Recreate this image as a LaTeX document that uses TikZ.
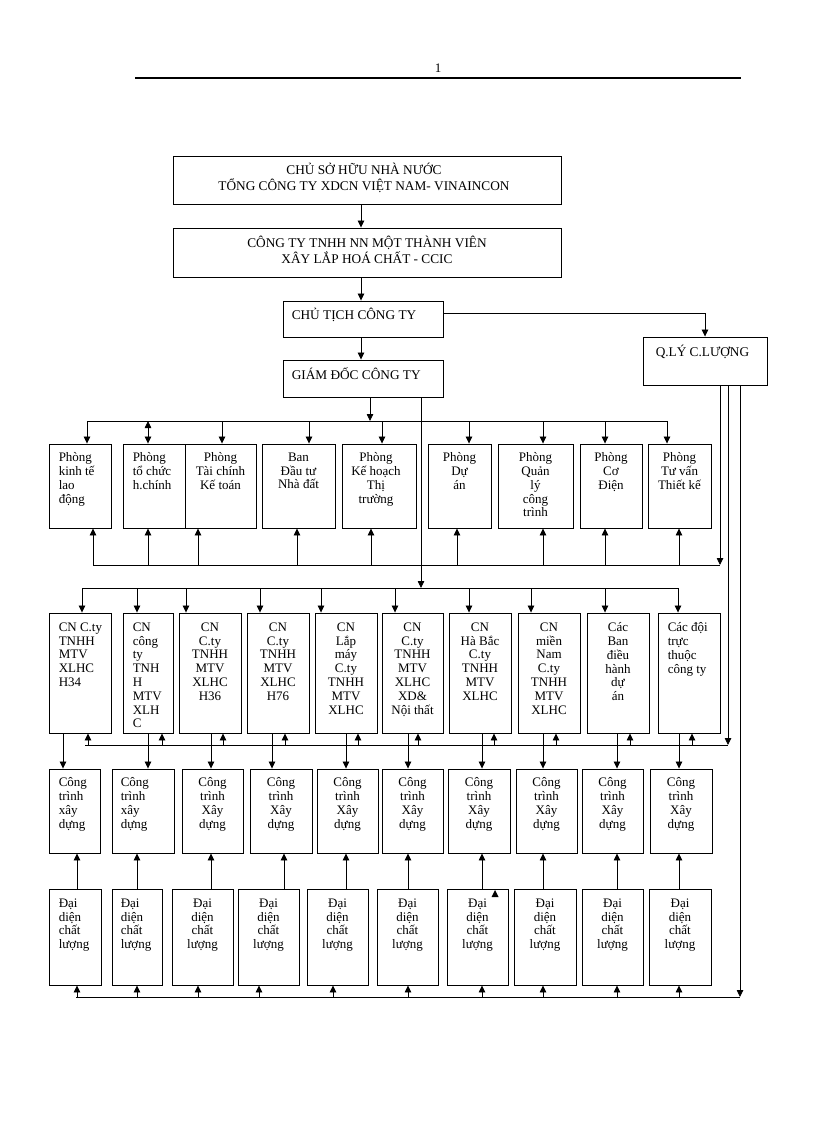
\documentclass[tikz,border=0pt]{standalone}
\usepackage{fontspec}
\setmainfont{Liberation Serif}
\usetikzlibrary{positioning,arrows.meta}

\tikzset{
  bx/.style={draw, rectangle, line width=0.9pt, inner sep=0pt},
  tx/.style={inner sep=0pt, align=center, font=\fontsize{13}{13.8}\selectfont},
  tl/.style={inner sep=0pt, align=left, font=\fontsize{13}{13.8}\selectfont},
  tcap/.style={inner sep=0pt, font=\fontsize{13.3}{16}\selectfont},
  ln/.style={line width=0.8pt},
  arr/.style={line width=0.8pt, -{Triangle[length=7pt,width=6.5pt]}},
  darr/.style={line width=0.8pt, {Triangle[length=7pt,width=6.5pt]}-{Triangle[length=7pt,width=6.5pt]}},
}

\begin{document}
\begin{tikzpicture}[x=1pt,y=-1pt]
\useasboundingbox[fill=white] (0,0) rectangle (816,1123);

% page head
\node[tx] (pagenum) at (438,68) {1};
\coordinate (hl) at (135,78);
\coordinate (hr) at (741,78);
\draw[line width=2.2pt] (hl) -- (hr);

% top of the company
\node[bx, minimum width=388pt, minimum height=48pt] (sohuu) at (367,180) {};
\node[tcap, align=center, below=7pt of sohuu.north, xshift=-3pt] (tsohuu) {CHỦ SỞ HỮU NHÀ NƯỚC\\TỔNG CÔNG TY XDCN VIỆT NAM- VINAINCON};
\node[bx, minimum width=388pt, minimum height=49pt] (ccic) at (367,252.5) {};
\node[tcap, align=center, below=8pt of ccic.north] (tccic) {CÔNG TY TNHH NN MỘT THÀNH VIÊN\\XÂY LẮP HOÁ CHẤT - CCIC};
\node[bx, minimum width=160pt, minimum height=36pt] (chutich) at (363,319) {};
\node[tcap, align=left, below right=7pt and 9pt of chutich.north west] (tchutich) {CHỦ TỊCH CÔNG TY};
\node[bx, minimum width=160pt, minimum height=37pt] (giamdoc) at (363,378.5) {};
\node[tcap, align=left, below right=8pt and 9pt of giamdoc.north west] (tgiamdoc) {GIÁM ĐỐC CÔNG TY};
\node[bx, minimum width=124pt, minimum height=48pt] (qlcl) at (705,361) {};
\node[tcap, align=left, below right=8pt and 13pt of qlcl.north west] (tqlcl) {Q.LÝ C.LƯỢNG};

\draw[arr] ([xshift=-6pt]sohuu.south) -- ([xshift=-6pt]ccic.north);
\draw[arr] ([xshift=-6pt]ccic.south) -- ([xshift=-2pt]chutich.north);
\draw[arr] ([xshift=-2pt]chutich.south) -- ([xshift=-2pt]giamdoc.north);
\draw[arr] ([yshift=6pt]chutich.east) -| (qlcl.north);

% phong ban
\node[bx, minimum width=62pt, minimum height=84pt] (pkt) at (80,486) {};
\node[tl, below right=9pt and 10pt of pkt.north west] (tpkt) {Phòng\\kinh tế\\lao\\động};
\node[bx, minimum width=62pt, minimum height=84pt] (ptc) at (154,486) {};
\node[tl, below right=9pt and 10pt of ptc.north west] (tptc) {Phòng\\tổ chức\\h.chính};
\node[bx, minimum width=71pt, minimum height=84pt] (ptck) at (220.5,486) {};
\node[tx, below=9pt of ptck.north] (tptck) {Phòng\\Tài chính\\Kế toán};
\node[bx, minimum width=73pt, minimum height=84pt] (bdt) at (298.5,486) {};
\node[tx, below=9pt of bdt.north] (tbdt) {Ban\\Đầu tư\\Nhà đất};
\node[bx, minimum width=74pt, minimum height=84pt] (pkh) at (379,486) {};
\node[tx, below=9pt of pkh.north, xshift=-3pt] (tpkh) {Phòng\\Kế hoạch\\Thị\\trường};
\node[bx, minimum width=63pt, minimum height=84pt] (pda) at (459.5,486) {};
\node[tx, below=9pt of pda.north] (tpda) {Phòng\\Dự\\án};
\node[bx, minimum width=75pt, minimum height=84pt] (pql) at (535.5,486) {};
\node[tx, below=9pt of pql.north] (tpql) {Phòng\\Quản\\lý\\công\\trình};
\node[bx, minimum width=62pt, minimum height=84pt] (pcd) at (611,486) {};
\node[tx, below=9pt of pcd.north] (tpcd) {Phòng\\Cơ\\Điện};
\node[bx, minimum width=63pt, minimum height=84pt] (ptv) at (679.5,486) {};
\node[tx, below=9pt of ptv.north] (tptv) {Phòng\\Tư vấn\\Thiết kế};

\coordinate (pbus) at (370,421);
\draw[arr] ([xshift=7pt]giamdoc.south) -- (pbus);
\draw[ln] ([xshift=7pt]pkt.north |- pbus) -- ([xshift=-12.5pt]ptv.north |- pbus);
\draw[arr] ([xshift=7pt]pkt.north |- pbus) -- ([xshift=7pt]pkt.north);
\draw[darr] ([xshift=-6pt]ptc.north |- pbus) -- ([xshift=-6pt]ptc.north);
\draw[arr] ([xshift=1.5pt]ptck.north |- pbus) -- ([xshift=1.5pt]ptck.north);
\draw[arr] ([xshift=10.5pt]bdt.north |- pbus) -- ([xshift=10.5pt]bdt.north);
\draw[arr] ([xshift=3pt]pkh.north |- pbus) -- ([xshift=3pt]pkh.north);
\draw[arr] ([xshift=9.5pt]pda.north |- pbus) -- ([xshift=9.5pt]pda.north);
\draw[arr] ([xshift=7.5pt]pql.north |- pbus) -- ([xshift=7.5pt]pql.north);
\draw[arr] ([xshift=-6pt]pcd.north |- pbus) -- ([xshift=-6pt]pcd.north);
\draw[arr] ([xshift=-12.5pt]ptv.north |- pbus) -- ([xshift=-12.5pt]ptv.north);

\coordinate (pbot) at (720,565);
\draw[arr] ([xshift=15pt]qlcl.south) -- (pbot);
\draw[ln] ([xshift=13pt]pkt.south |- pbot) -- (pbot);
\draw[arr] ([xshift=13pt]pkt.south |- pbot) -- ([xshift=13pt]pkt.south);
\draw[arr] ([xshift=-6pt]ptc.south |- pbot) -- ([xshift=-6pt]ptc.south);
\draw[arr] ([xshift=-22.5pt]ptck.south |- pbot) -- ([xshift=-22.5pt]ptck.south);
\draw[arr] ([xshift=-1.5pt]bdt.south |- pbot) -- ([xshift=-1.5pt]bdt.south);
\draw[arr] ([xshift=-8pt]pkh.south |- pbot) -- ([xshift=-8pt]pkh.south);
\draw[arr] ([xshift=-2.5pt]pda.south |- pbot) -- ([xshift=-2.5pt]pda.south);
\draw[arr] ([xshift=7.5pt]pql.south |- pbot) -- ([xshift=7.5pt]pql.south);
\draw[arr] ([xshift=-6pt]pcd.south |- pbot) -- ([xshift=-6pt]pcd.south);
\draw[arr] ([xshift=-0.5pt]ptv.south |- pbot) -- ([xshift=-0.5pt]ptv.south);

% chi nhanh
\node[bx, minimum width=62pt, minimum height=120pt] (cn1) at (80,673) {};
\node[tl, below right=10pt and 10pt of cn1.north west] (tcn1) {CN C.ty\\TNHH\\MTV\\XLHC\\H34};
\node[bx, minimum width=50pt, minimum height=120pt] (cn2) at (148,673) {};
\node[tl, below right=10pt and 10pt of cn2.north west] (tcn2) {CN\\công\\ty\\TNH\\H\\MTV\\XLH\\C};
\node[bx, minimum width=62pt, minimum height=120pt] (cn3) at (210,673) {};
\node[tx, below=10pt of cn3.north] (tcn3) {CN\\C.ty\\TNHH\\MTV\\XLHC\\H36};
\node[bx, minimum width=62pt, minimum height=120pt] (cn4) at (278,673) {};
\node[tx, below=10pt of cn4.north] (tcn4) {CN\\C.ty\\TNHH\\MTV\\XLHC\\H76};
\node[bx, minimum width=62pt, minimum height=120pt] (cn5) at (346,673) {};
\node[tx, below=10pt of cn5.north] (tcn5) {CN\\Lắp\\máy\\C.ty\\TNHH\\MTV\\XLHC};
\node[bx, minimum width=61pt, minimum height=120pt] (cn6) at (412.5,673) {};
\node[tx, below=10pt of cn6.north] (tcn6) {CN\\C.ty\\TNHH\\MTV\\XLHC\\XD\&\\Nội thất};
\node[bx, minimum width=62pt, minimum height=120pt] (cn7) at (480,673) {};
\node[tx, below=10pt of cn7.north] (tcn7) {CN\\Hà Bắc\\C.ty\\TNHH\\MTV\\XLHC};
\node[bx, minimum width=62pt, minimum height=120pt] (cn8) at (549,673) {};
\node[tx, below=10pt of cn8.north] (tcn8) {CN\\miền\\Nam\\C.ty\\TNHH\\MTV\\XLHC};
\node[bx, minimum width=62pt, minimum height=120pt] (cn9) at (618,673) {};
\node[tx, below=10pt of cn9.north] (tcn9) {Các\\Ban\\điều\\hành\\dự\\án};
\node[bx, minimum width=62pt, minimum height=120pt] (cn10) at (689,673) {};
\node[tl, below right=10pt and 10pt of cn10.north west] (tcn10) {Các đội\\trực\\thuộc\\công ty};

\coordinate (cnbus) at (421,588);
\draw[arr] ([xshift=58pt]giamdoc.south) -- (cnbus);
\draw[ln] ([xshift=2pt]cn1.north |- cnbus) -- ([xshift=-11pt]cn10.north |- cnbus);
\draw[arr] ([xshift=2pt]cn1.north |- cnbus) -- ([xshift=2pt]cn1.north);
\draw[arr] ([xshift=-11pt]cn2.north |- cnbus) -- ([xshift=-11pt]cn2.north);
\draw[arr] ([xshift=-24pt]cn3.north |- cnbus) -- ([xshift=-24pt]cn3.north);
\draw[arr] ([xshift=-18pt]cn4.north |- cnbus) -- ([xshift=-18pt]cn4.north);
\draw[arr] ([xshift=-25pt]cn5.north |- cnbus) -- ([xshift=-25pt]cn5.north);
\draw[arr] ([xshift=-17.5pt]cn6.north |- cnbus) -- ([xshift=-17.5pt]cn6.north);
\draw[arr] ([xshift=-11pt]cn7.north |- cnbus) -- ([xshift=-11pt]cn7.north);
\draw[arr] ([xshift=-18pt]cn8.north |- cnbus) -- ([xshift=-18pt]cn8.north);
\draw[arr] ([xshift=-13pt]cn9.north |- cnbus) -- ([xshift=-13pt]cn9.north);
\draw[arr] ([xshift=-11pt]cn10.north |- cnbus) -- ([xshift=-11pt]cn10.north);

% cong trinh
\node[bx, minimum width=51pt, minimum height=84pt] (ctr1) at (74.5,811) {};
\node[tl, below right=9pt and 10pt of ctr1.north west] (tctr1) {Công\\trình\\xây\\dựng};
\node[bx, minimum width=62pt, minimum height=84pt] (ctr2) at (143,811) {};
\node[tl, below right=9pt and 9pt of ctr2.north west] (tctr2) {Công\\trình\\xây\\dựng};
\node[bx, minimum width=61pt, minimum height=84pt] (ctr3) at (212.5,811) {};
\node[tx, below=9pt of ctr3.north] (tctr3) {Công\\trình\\Xây\\dựng};
\node[bx, minimum width=62pt, minimum height=84pt] (ctr4) at (281,811) {};
\node[tx, below=9pt of ctr4.north] (tctr4) {Công\\trình\\Xây\\dựng};
\node[bx, minimum width=61pt, minimum height=84pt] (ctr5) at (347.5,811) {};
\node[tx, below=9pt of ctr5.north] (tctr5) {Công\\trình\\Xây\\dựng};
\node[bx, minimum width=61pt, minimum height=84pt] (ctr6) at (412.5,811) {};
\node[tx, below=9pt of ctr6.north] (tctr6) {Công\\trình\\Xây\\dựng};
\node[bx, minimum width=62pt, minimum height=84pt] (ctr7) at (479,811) {};
\node[tx, below=9pt of ctr7.north] (tctr7) {Công\\trình\\Xây\\dựng};
\node[bx, minimum width=61pt, minimum height=84pt] (ctr8) at (546.5,811) {};
\node[tx, below=9pt of ctr8.north] (tctr8) {Công\\trình\\Xây\\dựng};
\node[bx, minimum width=61pt, minimum height=84pt] (ctr9) at (612.5,811) {};
\node[tx, below=9pt of ctr9.north] (tctr9) {Công\\trình\\Xây\\dựng};
\node[bx, minimum width=62pt, minimum height=84pt] (ctr10) at (681,811) {};
\node[tx, below=9pt of ctr10.north] (tctr10) {Công\\trình\\Xây\\dựng};

\draw[arr] ([xshift=-17pt]cn1.south) -- ([xshift=-17pt]cn1.south |- ctr1.north);
\draw[arr] (cn2.south) -- (cn2.south |- ctr2.north);
\draw[arr] ([xshift=1pt]cn3.south) -- ([xshift=1pt]cn3.south |- ctr3.north);
\draw[arr] ([xshift=-6pt]cn4.south) -- ([xshift=-6pt]cn4.south |- ctr4.north);
\draw[arr] (cn5.south) -- (cn5.south |- ctr5.north);
\draw[arr] ([xshift=-4.5pt]cn6.south) -- ([xshift=-4.5pt]cn6.south |- ctr6.north);
\draw[arr] ([xshift=2pt]cn7.south) -- ([xshift=2pt]cn7.south |- ctr7.north);
\draw[arr] ([xshift=-6pt]cn8.south) -- ([xshift=-6pt]cn8.south |- ctr8.north);
\draw[arr] ([xshift=-1pt]cn9.south) -- ([xshift=-1pt]cn9.south |- ctr9.north);
\draw[arr] ([xshift=-10pt]cn10.south) -- ([xshift=-10pt]cn10.south |- ctr10.north);

\coordinate (cnbot) at (728,745);
\draw[arr] ([xshift=23pt]qlcl.south) -- (cnbot);
\draw[ln] ([xshift=5pt]cn1.south |- cnbot) -- (cnbot);
\draw[arr] ([xshift=8pt]cn1.south |- cnbot) -- ([xshift=8pt]cn1.south);
\draw[arr] ([xshift=14pt]cn2.south |- cnbot) -- ([xshift=14pt]cn2.south);
\draw[arr] ([xshift=13pt]cn3.south |- cnbot) -- ([xshift=13pt]cn3.south);
\draw[arr] ([xshift=7pt]cn4.south |- cnbot) -- ([xshift=7pt]cn4.south);
\draw[arr] ([xshift=12pt]cn5.south |- cnbot) -- ([xshift=12pt]cn5.south);
\draw[arr] ([xshift=5.5pt]cn6.south |- cnbot) -- ([xshift=5.5pt]cn6.south);
\draw[arr] ([xshift=14pt]cn7.south |- cnbot) -- ([xshift=14pt]cn7.south);
\draw[arr] ([xshift=7pt]cn8.south |- cnbot) -- ([xshift=7pt]cn8.south);
\draw[arr] ([xshift=12pt]cn9.south |- cnbot) -- ([xshift=12pt]cn9.south);
\draw[arr] ([xshift=3pt]cn10.south |- cnbot) -- ([xshift=3pt]cn10.south);

% dai dien chat luong
\node[bx, minimum width=52pt, minimum height=96pt] (dd1) at (75,937) {};
\node[tl, below right=10pt and 10pt of dd1.north west] (tdd1) {Đại\\diện\\chất\\lượng};
\node[bx, minimum width=50pt, minimum height=96pt] (dd2) at (137,937) {};
\node[tl, below right=10pt and 9pt of dd2.north west] (tdd2) {Đại\\diện\\chất\\lượng};
\node[bx, minimum width=61pt, minimum height=96pt] (dd3) at (202.5,937) {};
\node[tx, below=10pt of dd3.north] (tdd3) {Đại\\diện\\chất\\lượng};
\node[bx, minimum width=61pt, minimum height=96pt] (dd4) at (268.5,937) {};
\node[tx, below=10pt of dd4.north] (tdd4) {Đại\\diện\\chất\\lượng};
\node[bx, minimum width=61pt, minimum height=96pt] (dd5) at (337.5,937) {};
\node[tx, below=10pt of dd5.north] (tdd5) {Đại\\diện\\chất\\lượng};
\node[bx, minimum width=61pt, minimum height=96pt] (dd6) at (407.5,937) {};
\node[tx, below=10pt of dd6.north] (tdd6) {Đại\\diện\\chất\\lượng};
\node[bx, minimum width=61pt, minimum height=96pt] (dd7) at (477.5,937) {};
\node[tx, below=10pt of dd7.north] (tdd7) {Đại\\diện\\chất\\lượng};
\node[bx, minimum width=62pt, minimum height=96pt] (dd8) at (545,937) {};
\node[tx, below=10pt of dd8.north] (tdd8) {Đại\\diện\\chất\\lượng};
\node[bx, minimum width=61pt, minimum height=96pt] (dd9) at (612.5,937) {};
\node[tx, below=10pt of dd9.north] (tdd9) {Đại\\diện\\chất\\lượng};
\node[bx, minimum width=62pt, minimum height=96pt] (dd10) at (680,937) {};
\node[tx, below=10pt of dd10.north] (tdd10) {Đại\\diện\\chất\\lượng};
\fill (491.5,897) -- (498.5,897) -- (495,890) -- cycle;

\draw[arr] ([xshift=2pt]dd1.north) -- ([xshift=2pt]dd1.north |- ctr1.south);
\draw[arr] (dd2.north) -- (dd2.north |- ctr2.south);
\draw[arr] ([xshift=8.5pt]dd3.north) -- ([xshift=8.5pt]dd3.north |- ctr3.south);
\draw[arr] ([xshift=15.5pt]dd4.north) -- ([xshift=15.5pt]dd4.north |- ctr4.south);
\draw[arr] ([xshift=8.5pt]dd5.north) -- ([xshift=8.5pt]dd5.north |- ctr5.south);
\draw[arr] ([xshift=0.5pt]dd6.north) -- ([xshift=0.5pt]dd6.north |- ctr6.south);
\draw[arr] ([xshift=4.5pt]dd7.north) -- ([xshift=4.5pt]dd7.north |- ctr7.south);
\draw[arr] ([xshift=-2pt]dd8.north) -- ([xshift=-2pt]dd8.north |- ctr8.south);
\draw[arr] ([xshift=4.5pt]dd9.north) -- ([xshift=4.5pt]dd9.north |- ctr9.south);
\draw[arr] ([xshift=-1pt]dd10.north) -- ([xshift=-1pt]dd10.north |- ctr10.south);

\coordinate (ddbot) at (740,997);
\draw[arr] ([xshift=35pt]qlcl.south) -- (ddbot);
\draw[ln] ([xshift=1pt]dd1.south |- ddbot) -- (ddbot);
\draw[arr] ([xshift=2pt]dd1.south |- ddbot) -- ([xshift=2pt]dd1.south);
\draw[arr] (dd2.south |- ddbot) -- (dd2.south);
\draw[arr] ([xshift=-4.5pt]dd3.south |- ddbot) -- ([xshift=-4.5pt]dd3.south);
\draw[arr] ([xshift=-9.5pt]dd4.south |- ddbot) -- ([xshift=-9.5pt]dd4.south);
\draw[arr] ([xshift=-4.5pt]dd5.south |- ddbot) -- ([xshift=-4.5pt]dd5.south);
\draw[arr] ([xshift=0.5pt]dd6.south |- ddbot) -- ([xshift=0.5pt]dd6.south);
\draw[arr] ([xshift=4.5pt]dd7.south |- ddbot) -- ([xshift=4.5pt]dd7.south);
\draw[arr] ([xshift=-2pt]dd8.south |- ddbot) -- ([xshift=-2pt]dd8.south);
\draw[arr] ([xshift=4.5pt]dd9.south |- ddbot) -- ([xshift=4.5pt]dd9.south);
\draw[arr] ([xshift=-1pt]dd10.south |- ddbot) -- ([xshift=-1pt]dd10.south);

\end{tikzpicture}
\end{document}
